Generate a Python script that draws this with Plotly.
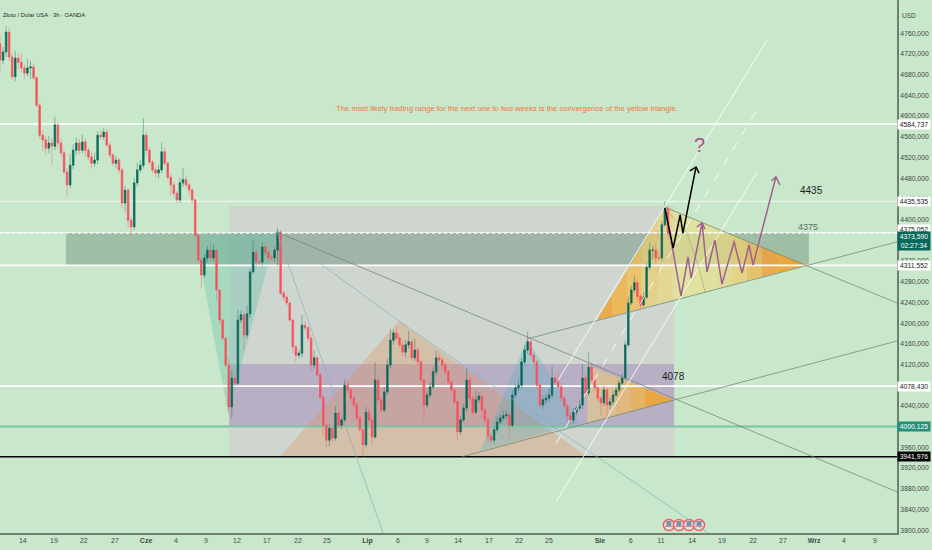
#!/usr/bin/env python3
# -*- coding: utf-8 -*-
"""Gold / USD 3h chart with hand drawn triangles, zones and scenario paths."""

import plotly.graph_objects as go

FIRST_OPEN = 4740
closes = [
    4708, 4724, 4762, 4714, 4676, 4712, 4704, 4693, 4683, 4693,
    4695, 4674, 4621, 4563, 4554, 4538, 4548, 4542, 4583, 4548,
    4529, 4492, 4467, 4505, 4534, 4548, 4534, 4550, 4534, 4521,
    4509, 4515, 4563, 4560, 4569, 4544, 4525, 4509, 4515, 4496,
    4432, 4457, 4399, 4386, 4471, 4496, 4505, 4563, 4534, 4511,
    4496, 4490, 4496, 4531, 4509, 4482, 4467, 4451, 4438, 4471,
    4477, 4467, 4457, 4438, 4370, 4322, 4293, 4326, 4341, 4326,
    4341, 4264, 4206, 4171, 4119, 4038, 4094, 4084, 4206, 4216,
    4177, 4218, 4299, 4337, 4318, 4318, 4347, 4337, 4326, 4326,
    4341, 4376, 4258, 4250, 4239, 4206, 4154, 4138, 4142, 4196,
    4191, 4171, 4119, 4133, 4100, 4057, 4003, 3974, 3997, 3978,
    4026, 4003, 4013, 4080, 4071, 4055, 4042, 4017, 3994, 3965,
    4028, 4013, 3980, 4090, 4052, 4032, 4067, 4119, 4167, 4181,
    4171, 4158, 4144, 4158, 4164, 4133, 4148, 4125, 4090, 4042,
    4061, 4077, 4106, 4133, 4129, 4119, 4106, 4086, 4071, 4048,
    3990, 4013, 4036, 4090, 4055, 4028, 4052, 4059, 4032, 4013,
    3982, 3974, 3994, 4009, 4017, 4021, 4023, 4003, 4061, 4075,
    4080, 4125, 4148, 4164, 4138, 4125, 4080, 4042, 4052, 4055,
    4061, 4094, 4086, 4077, 4055, 4040, 4021, 4013, 4028, 4036,
    4042, 4094, 4065, 4115, 4090, 4075, 4055, 4046, 4071, 4042,
    4048, 4061, 4071, 4084, 4094, 4158, 4239, 4264, 4278, 4252,
    4235, 4250, 4308, 4341, 4341, 4326, 4326, 4390, 4422, 4373.59,
]
upper_wick = [
    18, 10, 12, 8, 6, 14, 10, 16, 8, 18,
    12, 6, 4, 4, 10, 8, 14, 10, 16, 6,
    8, 4, 8, 22, 12, 10, 8, 14, 8, 6,
    10, 14, 8, 10, 8, 6, 6, 4, 8, 4,
    4, 8, 4, 6, 10, 14, 10, 33, 6, 6,
    4, 6, 10, 18, 8, 4, 6, 6, 4, 10,
    22, 8, 6, 4, 2, 2, 4, 8, 8, 14,
    10, 2, 2, 2, 2, 14, 16, 6, 20, 8,
    8, 16, 6, 22, 8, 6, 10, 8, 4, 6,
    8, 8, 4, 6, 4, 2, 2, 4, 6, 20,
    8, 4, 6, 14, 6, 4, 4, 6, 8, 6,
    14, 6, 8, 12, 8, 4, 4, 4, 4, 2,
    10, 6, 4, 34, 6, 6, 10, 12, 22, 6,
    12, 6, 6, 10, 22, 4, 22, 6, 4, 2,
    8, 10, 8, 14, 8, 6, 6, 4, 4, 4,
    4, 8, 8, 24, 8, 4, 18, 8, 4, 4,
    4, 6, 8, 10, 8, 10, 8, 4, 10, 8,
    10, 8, 10, 20, 8, 6, 4, 4, 8, 8,
    12, 24, 6, 18, 8, 4, 4, 6, 8, 4,
    10, 26, 8, 28, 8, 4, 4, 4, 8, 6,
    8, 8, 8, 6, 10, 8, 12, 8, 14, 6,
    4, 10, 8, 14, 8, 12, 12, 8, 14, 6,
]
lower_wick = [
    24, 8, 10, 8, 6, 8, 14, 8, 12, 6,
    22, 4, 4, 6, 22, 12, 10, 36, 8, 10,
    6, 6, 24, 6, 8, 10, 8, 6, 12, 6,
    10, 6, 8, 6, 6, 4, 6, 6, 10, 8,
    10, 18, 14, 18, 6, 8, 6, 6, 8, 6,
    6, 8, 10, 6, 4, 6, 20, 8, 6, 6,
    8, 6, 10, 6, 4, 4, 26, 6, 8, 10,
    6, 20, 8, 4, 4, 14, 22, 6, 4, 6,
    30, 6, 8, 4, 10, 6, 8, 8, 8, 6,
    8, 30, 4, 6, 6, 4, 12, 14, 6, 8,
    6, 6, 14, 6, 4, 6, 20, 14, 12, 8,
    6, 6, 8, 4, 6, 8, 6, 6, 6, 24,
    6, 6, 14, 4, 6, 6, 4, 6, 6, 8,
    6, 6, 6, 10, 8, 6, 6, 4, 6, 28,
    6, 4, 4, 6, 6, 8, 6, 4, 8, 6,
    16, 6, 4, 8, 6, 6, 4, 6, 14, 6,
    12, 6, 6, 6, 4, 6, 6, 24, 4, 6,
    6, 6, 6, 8, 8, 10, 8, 6, 8, 8,
    6, 6, 4, 4, 8, 6, 10, 14, 8, 6,
    6, 8, 8, 6, 6, 6, 8, 24, 6, 26,
    8, 6, 4, 4, 4, 4, 4, 4, 6, 10,
    6, 4, 4, 6, 18, 10, 6, 6, 4, 12,
]

y_ticks = [3800 + 40 * n for n in range(25)]
x_tick_bars = [7.5, 17.7, 27.5, 37.7, 47.9, 57.7, 67.5, 77.7, 87.5, 97.7, 107.2,
               120.5, 130.5, 140, 150.2, 160.3, 170.2, 180, 196.7, 206.8, 216.7,
               226.9, 236.7, 246.9, 256.7, 266.9, 276.7, 286.9]
x_tick_labels = ["14", "19", "22", "27", "<b>Cze</b>", "4", "9", "12", "17", "22", "25",
                 "<b>Lip</b>", "6", "9", "14", "17", "22", "25", "<b>Sie</b>", "6", "11",
                 "14", "19", "22", "27", "<b>Wrz</b>", "4", "9"]

# horizontal levels: price, colour, width
levels = [
    (4584.737, "#ffffff", 1.6),
    (4435.535, "rgba(255,255,255,0.75)", 1.2),
    (4375.052, "rgba(255,255,255,0.8)", 1),
    (4311.552, "#ffffff", 1.6),
    (4078.430, "#ffffff", 1.6),
    (4000.125, "#7cc4a6", 2),
    (3941.976, "#000000", 1.6),
]

# axis price labels: text, price, background, text colour
price_labels = [
    ("4584,737", 4584.737, "#ffffff", "#222222"),
    ("4435,535", 4435.535, "#ffffff", "#222222"),
    ("4375,052", 4375.052 + 6, "#ffffff", "#222222"),
    ("4311,552", 4311.552, "#ffffff", "#222222"),
    ("4078,430", 4078.430, "#ffffff", "#222222"),
    ("4000,125", 4000.125, "#26907a", "#ffffff"),
    ("3941,976", 3941.976, "#000000", "#ffffff"),
]

LAST_BAR_END = 294.1
Y_MIN, Y_MAX = 3794.6, 4824.3
UP, DOWN = "#08695a", "#f7525f"
BG = "#c9e7cb"

opens = [FIRST_OPEN] + closes[:-1]
bars = list(range(len(closes)))
highs = [max(o, c) + u for o, c, u in zip(opens, closes, upper_wick)]
lows = [min(o, c) - d for o, c, d in zip(opens, closes, lower_wick)]
body_high = [max(o, c) for o, c in zip(opens, closes)]
body_low = [min(o, c) for o, c in zip(opens, closes)]

fig = go.Figure()


def poly(points, color, layer="below"):
    path = "M " + " L ".join(f"{x} {y}" for x, y in points) + " Z"
    fig.add_shape(type="path", path=path, xref="x", yref="y",
                  fillcolor=color, line_width=0, layer=layer)


def segment(points, color, width=1, dash="solid", layer="above"):
    path = "M " + " L ".join(f"{x} {y}" for x, y in points)
    fig.add_shape(type="path", path=path, xref="x", yref="y",
                  fillcolor="rgba(0,0,0,0)", layer=layer,
                  line=dict(color=color, width=width, dash=dash))


def box(x0, x1, y0, y1, color):
    fig.add_shape(type="rect", x0=x0, x1=x1, y0=y0, y1=y1, xref="x", yref="y",
                  fillcolor=color, line_width=0, layer="below")


def on_edge(a, b, x):
    return a[1] + (b[1] - a[1]) * (x - a[0]) / (b[0] - a[0])


def banded_triangle(left, top, right, colors):
    """Fill a triangle with vertical colour bands (the drawing tool's gradient)."""
    step = (right[0] - left[0]) / len(colors)

    def upper(x):
        if left[0] == top[0] or x > top[0]:
            return on_edge(top, right, x)
        return on_edge(left, top, x)

    for n, color in enumerate(colors):
        x0, x1 = left[0] + n * step, left[0] + (n + 1) * step
        pts = [(x0, on_edge(left, right, x0)), (x1, on_edge(left, right, x1)),
               (x1, upper(x1))]
        if x0 < top[0] < x1:
            pts.append((top[0], top[1]))
        pts.append((x0, upper(x0)))
        poly(pts, color)


# zones
box(75.1, 221, 3942, 4426.3, "rgba(209,200,211,0.55)")
box(75.1, 221, 4000, 4121, "rgba(164,136,188,0.5)")
box(21.6, 265.2, 4311.55, 4375, "rgba(96,130,110,0.4)")

# pattern triangles
poly([(63.9, 4370), (74.8, 4024.5), (90.8, 4376)], "rgba(97,194,168,0.35)")
poly([(91.8, 3942), (130.8, 4204), (192.5, 3942)], "rgba(225,140,80,0.3)")
poly([(157.4, 3953), (172.8, 4169.4), (190.2, 4007)], "rgba(80,180,200,0.3)")
banded_triangle((192.5, 4007), (192.5, 4119), (221, 4051.5),
                ["rgba(236,205,130,0.55)", "rgba(238,200,120,0.6)", "rgba(240,190,95,0.7)",
                 "rgba(240,180,75,0.8)", "rgba(238,165,50,0.9)", "rgba(238,165,50,0.9)"])
banded_triangle((195.7, 4206), (218, 4424), (264.6, 4312),
                ["rgba(238,165,55,0.9)", "rgba(240,180,70,0.85)", "rgba(240,190,85,0.8)",
                 "rgba(238,205,110,0.7)", "rgba(236,215,125,0.7)", "rgba(234,222,135,0.7)",
                 "rgba(234,224,140,0.7)", "rgba(234,222,135,0.7)", "rgba(235,215,125,0.7)",
                 "rgba(236,205,110,0.75)", "rgba(238,185,85,0.8)", "rgba(240,160,60,0.85)",
                 "rgba(240,165,50,0.9)", "rgba(240,160,45,0.95)"])

# levels
for price, color, width in levels:
    fig.add_shape(type="line", x0=0, x1=LAST_BAR_END, y0=price, y1=price, xref="x", yref="y",
                  line=dict(color=color, width=width), layer="below")
fig.add_shape(type="line", x0=0, x1=LAST_BAR_END, y0=closes[-1], y1=closes[-1], xref="x", yref="y",
              line=dict(color="rgba(255,255,255,0.9)", width=1, dash="dot"), layer="below")

fig.add_trace(go.Candlestick(
    x=bars, open=opens, high=highs, low=lows, close=closes, hoverinfo="skip",
    increasing=dict(line=dict(color="rgba(8,105,90,0.4)", width=1), fillcolor="rgba(0,0,0,0)"),
    decreasing=dict(line=dict(color="rgba(247,82,95,0.4)", width=1), fillcolor="rgba(0,0,0,0)"),
    whiskerwidth=0, showlegend=False,
))
fig.add_trace(go.Candlestick(
    x=bars, open=opens, high=body_high, low=body_low, close=closes,
    increasing=dict(line=dict(color=UP, width=0.5), fillcolor=UP),
    decreasing=dict(line=dict(color=DOWN, width=0.5), fillcolor=DOWN),
    whiskerwidth=0, showlegend=False,
))

# trend lines
GREY_LINE = "rgba(105,130,110,0.7)"
THIN_BLUE = "rgba(140,175,190,0.7)"
segment([(90.8, 4376), (294.1, 3874)], GREY_LINE)
segment([(90.8, 4376), (130.8, 4204), (232.1, 3795)], THIN_BLUE)
segment([(90.8, 4376), (125.6, 3795)], THIN_BLUE)
segment([(151.5, 3942), (221, 4051.5), (294.1, 4165.5)], GREY_LINE)
segment([(172.8, 4169.4), (294.1, 4357)], GREY_LINE)
segment([(218, 4424), (294.1, 4239)], GREY_LINE)

# channel
segment([(183, 4090), (251.5, 4747)], "rgba(255,255,255,0.85)", 1)
segment([(182.3, 3855), (248.2, 4492)], "rgba(255,255,255,0.85)", 1)
segment([(182.3, 3968), (248.2, 4612)], "rgba(255,255,255,0.85)", 1, dash="dash")

# fan arc and faint vertical
segment([(218, 4422), (225.2, 4374), (229, 4310), (231.2, 4260)], "rgba(150,150,130,0.5)")
segment([(215.7, 4380), (215.7, 4270)], "rgba(220,140,130,0.5)", 1, dash="dash")

# scenario paths
purple_x = [218.4, 223.3, 225.6, 226.6, 230.2, 231.8, 234.4, 236.7, 240.7, 243.3, 245.6, 246.9, 254.4]
purple_y = [4412.8, 4252.4, 4327.8, 4287.2, 4393.5, 4298.8, 4360.6, 4275.6, 4356.8, 4296.9, 4351, 4312.3, 4482.3]
black_x = [218, 220.7, 223, 223.9, 228.2]
black_y = [4422.4, 4345, 4409, 4374, 4501.7]
PURPLE = "#a0608f"
segment(list(zip(purple_x, purple_y)), PURPLE, 1.5)
segment([(253, 4475), (254.4, 4482.3), (255.7, 4467)], PURPLE, 1.5)
segment([(228.5, 4385.7), (230.2, 4393.5), (231.1, 4382)], PURPLE, 1.5)
segment(list(zip(black_x, black_y)), "#000000", 1.5)
segment([(226.2, 4494), (228.2, 4501.7), (229.2, 4490)], "#000000", 1.5)

# calendar flags
flag_bars = [219.3, 222.6, 225.9, 229.2]
flag_prices = [3810, 3810, 3810, 3810]
fig.add_trace(go.Scatter(x=flag_bars, y=flag_prices, mode="markers", hoverinfo="skip", showlegend=False,
                         marker=dict(size=11, color="#e6e6ea", line=dict(color="#ef5f5f", width=1.5))))
fig.add_trace(go.Scatter(x=flag_bars, y=[p + 3 for p in flag_prices], mode="markers", hoverinfo="skip",
                         showlegend=False, marker=dict(size=5, symbol="square", color="#7d90a8")))
fig.add_trace(go.Scatter(x=flag_bars, y=[p - 3 for p in flag_prices], mode="markers", hoverinfo="skip",
                         showlegend=False, marker=dict(size=6, symbol="line-ew",
                                                       line=dict(color="#e88080", width=1))))

FONT = "Liberation Sans, sans-serif"
TEXT = "#3f4a44"


def note(x, y, text, size, color, **kw):
    fig.add_annotation(x=x, y=y, text=text, xref="x", yref="y", showarrow=False,
                       font=dict(family=FONT, size=size, color=color), **kw)


note(166.2, 4615, "The most likely trading range for the next one to two weeks is the convergence of the yellow triangle.",
     7.7, "#f0783a")
note(266.2, 4457, "4435", 10, "#1c1c1c")
note(265, 4385, "4375", 9, "#5f6f64")
note(220.7, 4096, "4078", 10, "#1c1c1c")
note(229.2, 4544, "?", 20, "#a84f80")

fig.add_annotation(x=0.001, y=0.981, xref="paper", yref="paper", xanchor="left", showarrow=False,
                   text="Złoto / Dolar USA · 3h · OANDA", font=dict(family=FONT, size=5.8, color="#2a2a2a"))
fig.add_annotation(x=1, y=0.981, xref="paper", yref="paper", xanchor="left", xshift=3, showarrow=False,
                   text="USD", font=dict(family=FONT, size=6.5, color=TEXT))

for text, price, bg, fg in price_labels:
    fig.add_annotation(x=1, y=price, xref="paper", yref="y", xanchor="left", xshift=0, showarrow=False,
                       text=text, bgcolor=bg, borderpad=1, width=30,
                       font=dict(family=FONT, size=6.8, color=fg))
fig.add_annotation(x=1, y=closes[-1] - 14, xref="paper", yref="y", xanchor="left", showarrow=False,
                   text="4373,590<br>02:27:34", bgcolor=UP, borderpad=1, width=30,
                   font=dict(family=FONT, size=6.8, color="#ffffff"))

fig.update_layout(
    width=932, height=550,
    margin=dict(l=0, r=35, t=0, b=17),
    paper_bgcolor=BG, plot_bgcolor=BG,
    boxmode="overlay", boxgap=0.3,
    showlegend=False,
    xaxis=dict(range=[0, LAST_BAR_END], rangeslider=dict(visible=False), showgrid=False, zeroline=False,
               tickmode="array", tickvals=x_tick_bars, ticktext=x_tick_labels, ticks="",
               tickfont=dict(family=FONT, size=7, color=TEXT),
               showline=True, linecolor="#6f7f72", linewidth=2),
    yaxis=dict(range=[Y_MIN, Y_MAX], side="right", showgrid=False, zeroline=False,
               tickmode="array", tickvals=y_ticks, ticktext=[f"{v},000" for v in y_ticks], ticks="",
               tickfont=dict(family=FONT, size=6.8, color=TEXT),
               showline=True, linecolor="#6f7f72", linewidth=2),
)

# the page's default body margin would push the chart off the window
fig.write_html("out.html", config={"displayModeBar": False},
               post_script="document.body.style.margin='0';document.body.style.background='" + BG + "';")
